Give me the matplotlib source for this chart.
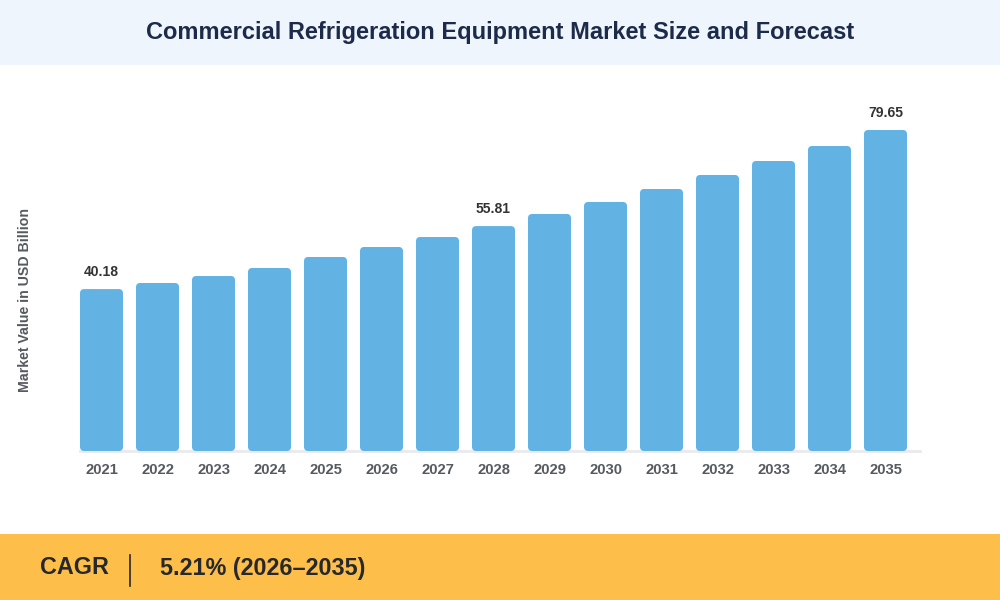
import matplotlib.pyplot as plt
from matplotlib.patches import FancyBboxPatch, Rectangle
from matplotlib.lines import Line2D

# data
years = ["2021", "2022", "2023", "2024", "2025", "2026", "2027", "2028",
         "2029", "2030", "2031", "2032", "2033", "2034", "2035"]
values = [40.18, 41.69, 43.42, 45.41, 48.14, 50.62, 53.10, 55.81,
          58.81, 61.79, 65.01, 68.49, 71.96, 75.68, 79.65]
labelled = ["2021", "2028", "2035"]

title = "Commercial Refrigeration Equipment Market Size and Forecast"
ylabel = "Market Value in USD Billion"
cagr_label = "CAGR"
cagr_text = "5.21% (2026\u20132035)"

plt.rcParams['font.family'] = ['Liberation Sans', 'DejaVu Sans']

W, H = 1000, 600
fig = plt.figure(figsize=(10, 6), dpi=100)
fig.patch.set_facecolor("white")

# header band
fig.patches.append(Rectangle((0, 1 - 65 / H), 1, 65 / H, transform=fig.transFigure,
                             facecolor="#EEF5FD", edgecolor="none", zorder=0))
fig.text(0.5, 1 - 33 / H, title, ha="center", va="center", fontsize=17,
         fontweight="bold", color="#1D2B4A")

# footer band
fig.patches.append(Rectangle((0, 0), 1, 66 / H, transform=fig.transFigure,
                             facecolor="#FEBF4A", edgecolor="none", zorder=0))
fig.text(40 / W, 1 - 568 / H, cagr_label, ha="left", va="center", fontsize=16.8,
         fontweight="bold", color="#26282B")
fig.lines.append(Line2D([130 / W, 130 / W], [1 - 555 / H, 1 - 586 / H],
                        transform=fig.transFigure, color="#26282B", lw=1.2))
fig.text(160 / W, 1 - 568 / H, cagr_text, ha="left", va="center", fontsize=16.8,
         fontweight="bold", color="#26282B")

# plot area
px_per_unit = 4.03
ymax = 90
left_px, right_px = 73.5, 913.5
base_px = 451
ax = fig.add_axes([left_px / W, (H - base_px) / H, (right_px - left_px) / W,
                   ymax * px_per_unit / H])
ax.set_xlim(-0.5, len(years) - 0.5)
ax.set_ylim(0, ymax)
ax.axis("off")

bw = 43 / 56
r = 0.075
aspect = (1 / px_per_unit) / (1 / 56)
for i, (yr, v) in enumerate(zip(years, values)):
    ax.add_patch(FancyBboxPatch((i - bw / 2, 0), bw, v,
                                boxstyle=f"round,pad=0,rounding_size={r}",
                                mutation_aspect=aspect,
                                facecolor="#62B3E4", edgecolor="none", zorder=2))
    ax.text(i, -19 / px_per_unit, yr, ha="center", va="center", fontsize=10.6,
            fontweight="bold", color="#555A60")
    if yr in labelled:
        ax.text(i, v + 17 / px_per_unit, f"{v:.2f}", ha="center", va="center",
                fontsize=10, fontweight="bold", color="#333333")

ax.plot([-bw / 2, len(years) - 1 + bw / 2 + 0.23], [0, 0], color="#E8EAEE",
        lw=2, clip_on=False, zorder=1)

fig.text(25 / W, 1 - 300 / H, ylabel, rotation=90, ha="center", va="center",
         fontsize=10.2, fontweight="bold", color="#555A60")

fig.savefig("out.png", dpi=100)
